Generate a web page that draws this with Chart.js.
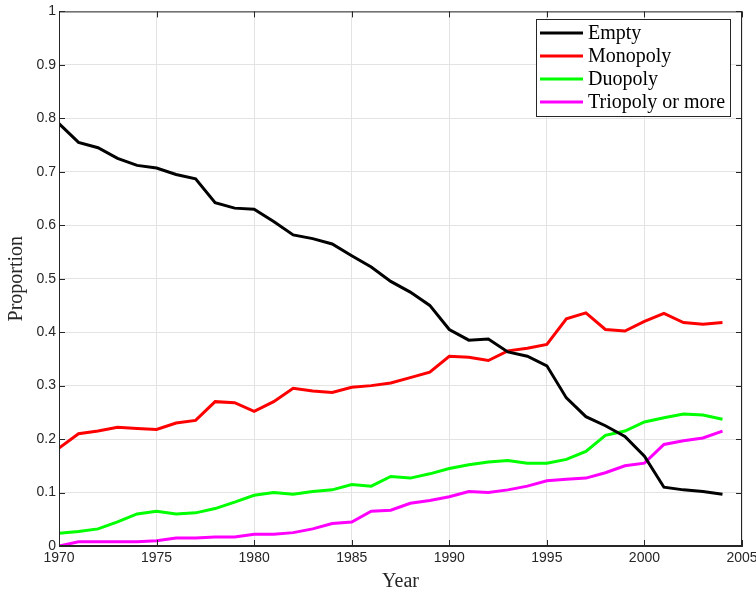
<!DOCTYPE html>
<html>
<head>
<meta charset="utf-8">
<script src="https://cdn.jsdelivr.net/npm/chart.js@4.4.1/dist/chart.umd.min.js"></script>
<style>
  html, body { margin: 0; padding: 0; background: #fff; }
  #wrap { width: 756px; height: 594px; }
</style>
</head>
<body>
<div id="wrap"><canvas id="myChart" width="756" height="594"></canvas></div>
<script>
const years = [1970, 1971, 1972, 1973, 1974, 1975, 1976, 1977, 1978, 1979,
  1980, 1981, 1982, 1983, 1984, 1985, 1986, 1987, 1988, 1989,
  1990, 1991, 1992, 1993, 1994, 1995, 1996, 1997, 1998, 1999,
  2000, 2001, 2002, 2003, 2004];

const empty = [0.790, 0.755, 0.745, 0.725, 0.712, 0.707, 0.695, 0.687, 0.642, 0.632,
  0.630, 0.607, 0.582, 0.575, 0.565, 0.543, 0.522, 0.495, 0.475, 0.450,
  0.405, 0.385, 0.387, 0.363, 0.355, 0.337, 0.277, 0.242, 0.225, 0.205,
  0.168, 0.110, 0.105, 0.102, 0.097];
const monopoly = [0.183, 0.210, 0.215, 0.222, 0.220, 0.218, 0.230, 0.235, 0.270, 0.268,
  0.252, 0.270, 0.295, 0.290, 0.287, 0.297, 0.300, 0.305, 0.315, 0.325,
  0.355, 0.353, 0.347, 0.365, 0.370, 0.377, 0.425, 0.436, 0.405, 0.402,
  0.420, 0.435, 0.418, 0.415, 0.418];
const duopoly = [0.024, 0.027, 0.032, 0.045, 0.060, 0.065, 0.060, 0.062, 0.070, 0.082,
  0.095, 0.100, 0.097, 0.102, 0.105, 0.115, 0.112, 0.130, 0.127, 0.135,
  0.145, 0.152, 0.157, 0.160, 0.155, 0.155, 0.162, 0.177, 0.207, 0.215,
  0.232, 0.240, 0.247, 0.245, 0.237];
const triopoly = [0.000, 0.008, 0.008, 0.008, 0.008, 0.010, 0.015, 0.015, 0.017, 0.017,
  0.022, 0.022, 0.025, 0.032, 0.042, 0.045, 0.065, 0.067, 0.080, 0.085,
  0.092, 0.102, 0.100, 0.105, 0.112, 0.122, 0.125, 0.127, 0.137, 0.150,
  0.155, 0.190, 0.197, 0.202, 0.215];

const seriesNames = ["Empty", "Monopoly", "Duopoly", "Triopoly or more"];
const seriesColors = ["#000000", "#ff0000", "#00ff00", "#ff00ff"];
const seriesValues = [empty, monopoly, duopoly, triopoly];

const axisColor = "#262626";
const serif = "'Liberation Serif', 'DejaVu Serif', serif";
const sans = "'Liberation Sans', Arial, sans-serif";

// box, inward ticks and the legend inside the axes
const matlabAxes = {
  id: "matlabAxes",
  afterDraw(chart) {
    const ctx = chart.ctx;
    const a = chart.chartArea;
    const xs = chart.scales.x;
    const ys = chart.scales.y;
    ctx.save();
    ctx.strokeStyle = axisColor;
    ctx.lineWidth = 1;
    ctx.strokeRect(a.left + 0.5, a.top + 0.5, a.right - a.left - 1, a.bottom - a.top - 1);
    ctx.beginPath();
    xs.ticks.forEach((t) => {
      const px = Math.round(xs.getPixelForValue(t.value)) + 0.5;
      ctx.moveTo(px, a.bottom); ctx.lineTo(px, a.bottom - 6);
      ctx.moveTo(px, a.top); ctx.lineTo(px, a.top + 6);
    });
    ys.ticks.forEach((t) => {
      const py = Math.round(ys.getPixelForValue(t.value)) + 0.5;
      ctx.moveTo(a.left, py); ctx.lineTo(a.left + 6, py);
      ctx.moveTo(a.right, py); ctx.lineTo(a.right - 6, py);
    });
    ctx.stroke();

    // Legend
    ctx.font = "20px " + serif;
    const textW = Math.max(...seriesNames.map((n) => ctx.measureText(n).width));
    const lineLen = 43;
    const boxRight = 730;
    const boxW = 5 + lineLen + 5 + textW + 4;
    const boxLeft = Math.round(boxRight - boxW);
    const boxTop = 19;
    const rowH = 23;
    const boxH = 97;
    ctx.fillStyle = "#fff";
    ctx.fillRect(boxLeft, boxTop, boxRight - boxLeft, boxH);
    ctx.strokeStyle = axisColor;
    ctx.lineWidth = 1;
    ctx.strokeRect(boxLeft + 0.5, boxTop + 0.5, boxRight - boxLeft, boxH);
    seriesNames.forEach((name, i) => {
      const cy = boxTop + 14 + i * rowH;
      ctx.strokeStyle = seriesColors[i];
      ctx.lineWidth = 3;
      ctx.beginPath();
      ctx.moveTo(boxLeft + 4, cy);
      ctx.lineTo(boxLeft + 4 + lineLen, cy);
      ctx.stroke();
      ctx.fillStyle = "#000";
      ctx.textBaseline = "middle";
      ctx.textAlign = "left";
      ctx.fillText(name, boxLeft + 4 + lineLen + 5, cy + 1);
    });
    ctx.restore();
  },
};

new Chart(document.getElementById("myChart"), {
  type: "line",
  data: {
    datasets: seriesNames.map((name, i) => ({
      label: name,
      data: years.map((yr, j) => ({ x: yr, y: seriesValues[i][j] })),
      borderColor: seriesColors[i],
      backgroundColor: seriesColors[i],
      borderWidth: 3,
      pointRadius: 0,
      tension: 0,
      fill: false,
    })),
  },
  options: {
    responsive: false,
    animation: false,
    layout: { padding: { top: 8, right: 14, left: 0, bottom: 0 } },
    plugins: {
      legend: { display: false },
      tooltip: { enabled: false },
    },
    scales: {
      x: {
        type: "linear",
        min: 1970,
        max: 2005,
        ticks: {
          stepSize: 5,
          callback: (v) => String(v),
          color: axisColor,
          font: { family: sans, size: 14 },
          padding: 4,
          maxRotation: 0,
        },
        grid: { color: "#e3e3e3", drawTicks: false },
        border: { color: axisColor },
        title: {
          display: true,
          text: "Year",
          color: axisColor,
          font: { family: serif, size: 20 },
          padding: { top: 2, bottom: 0 },
        },
        afterFit: (scale) => {
          scale.height = 48;
          scale.paddingRight = 0;
        },
      },
      y: {
        min: 0,
        max: 1,
        ticks: {
          stepSize: 0.1,
          callback: (v) => String(Math.round(v * 10) / 10),
          color: axisColor,
          font: { family: sans, size: 14 },
          padding: 3,
        },
        grid: { color: "#e3e3e3", drawTicks: false },
        border: { color: axisColor },
        title: {
          display: true,
          text: "Proportion",
          color: axisColor,
          font: { family: serif, size: 20 },
          padding: { top: 5, bottom: 0 },
        },
        afterFit: (scale) => { scale.width = 59; },
      },
    },
  },
  plugins: [matlabAxes],
});
</script>
</body>
</html>
